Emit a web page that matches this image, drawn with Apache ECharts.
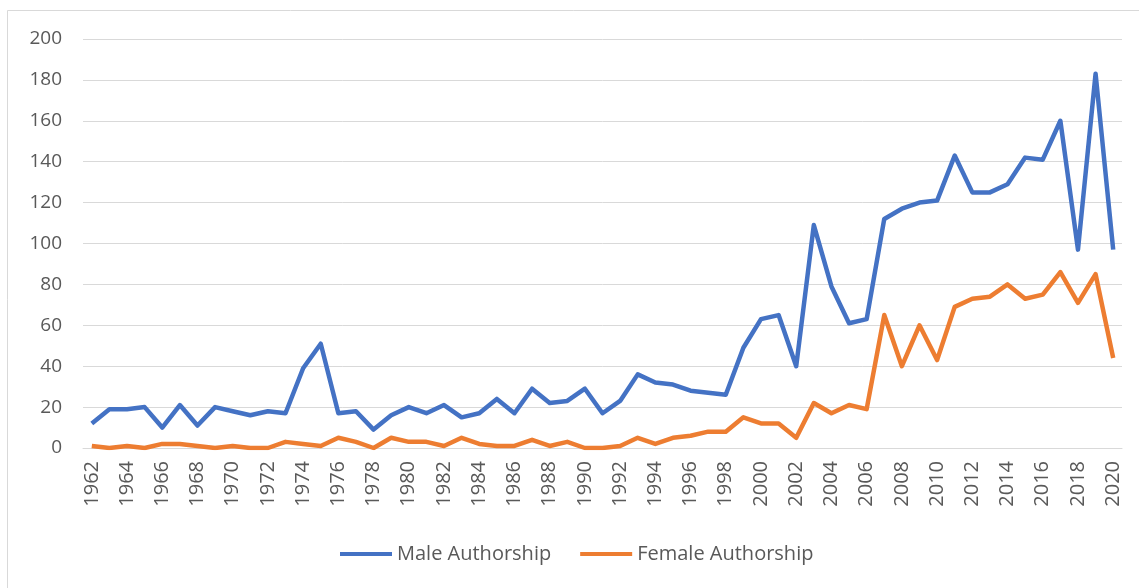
<!DOCTYPE html>
<html>
<head>
<meta charset="utf-8">
<script src="https://cdn.jsdelivr.net/npm/echarts@6/dist/echarts.min.js"></script>
<style>
html,body{margin:0;padding:0;background:#fff;}
#chart{width:1139px;height:588px;}
</style>
</head>
<body>
<div id="chart"></div>
<script>
// years 1962 - 2020
var years = [];
for (var y = 1962; y <= 2020; y++) { years.push(String(y)); }

var maleAuthorship = [
	12, 19, 19, 20, 10, 21, 11, 20, 18, 16,
	18, 17, 39, 51, 17, 18, 9, 16, 20, 17,
	21, 15, 17, 24, 17, 29, 22, 23, 29, 17,
	23, 36, 32, 31, 28, 27, 26, 49, 63, 65,
	40, 109, 79, 61, 63, 112, 117, 120, 121, 143,
	125, 125, 129, 142, 141, 160, 97, 183, 97
];
var femaleAuthorship = [
	1, 0, 1, 0, 2, 2, 1, 0, 1, 0,
	0, 3, 2, 1, 5, 3, 0, 5, 3, 3,
	1, 5, 2, 1, 1, 4, 1, 3, 0, 0,
	1, 5, 2, 5, 6, 8, 8, 15, 12, 12,
	5, 22, 17, 21, 19, 65, 40, 60, 43, 69,
	73, 74, 80, 73, 75, 86, 71, 85, 44
];

var textColor = '#595959';
var gridColor = '#d9d9d9';
var fontName = 'Open Sans';

var chart = echarts.init(document.getElementById('chart'));
var option = {
	animation: false,
	backgroundColor: '#fff',
	graphic: [
		{
			type: 'rect',
			shape: { x: 7.5, y: 10.5, width: 1200, height: 700 },
			style: { fill: 'none', stroke: gridColor, lineWidth: 1 }
		}
	],
	color: ['#4472c4', '#ed7d31'],
	legend: {
		left: 335,
		top: 539,
		itemWidth: 52,
		itemHeight: 4,
		itemGap: 29,
		icon: 'rect',
		textStyle: { color: textColor, fontSize: 20, fontFamily: fontName },
		data: ['Male Authorship', 'Female Authorship']
	},
	grid: {
		left: 83,
		right: 17,
		top: 39,
		height: 409
	},
	xAxis: {
		type: 'category',
		boundaryGap: true,
		data: years,
		axisLine: { lineStyle: { color: gridColor, width: 1 } },
		axisTick: { show: false },
		axisLabel: {
			interval: 1,
			rotate: 90,
			margin: 13,
			color: textColor,
			fontSize: 20,
			fontFamily: fontName
		}
	},
	yAxis: {
		type: 'value',
		min: 0,
		max: 200,
		interval: 20,
		axisLine: { show: false },
		axisTick: { show: false },
		axisLabel: {
			margin: 21,
			color: textColor,
			fontSize: 19,
			fontFamily: fontName
		},
		splitLine: { lineStyle: { color: gridColor, width: 1 } }
	},
	series: [
		{
			name: 'Male Authorship',
			type: 'line',
			data: maleAuthorship,
			symbol: 'none',
			lineStyle: { width: 4.5, join: 'round' }
		},
		{
			name: 'Female Authorship',
			type: 'line',
			data: femaleAuthorship,
			symbol: 'none',
			lineStyle: { width: 4.5, join: 'round' }
		}
	]
};
chart.setOption(option);
</script>
</body>
</html>
